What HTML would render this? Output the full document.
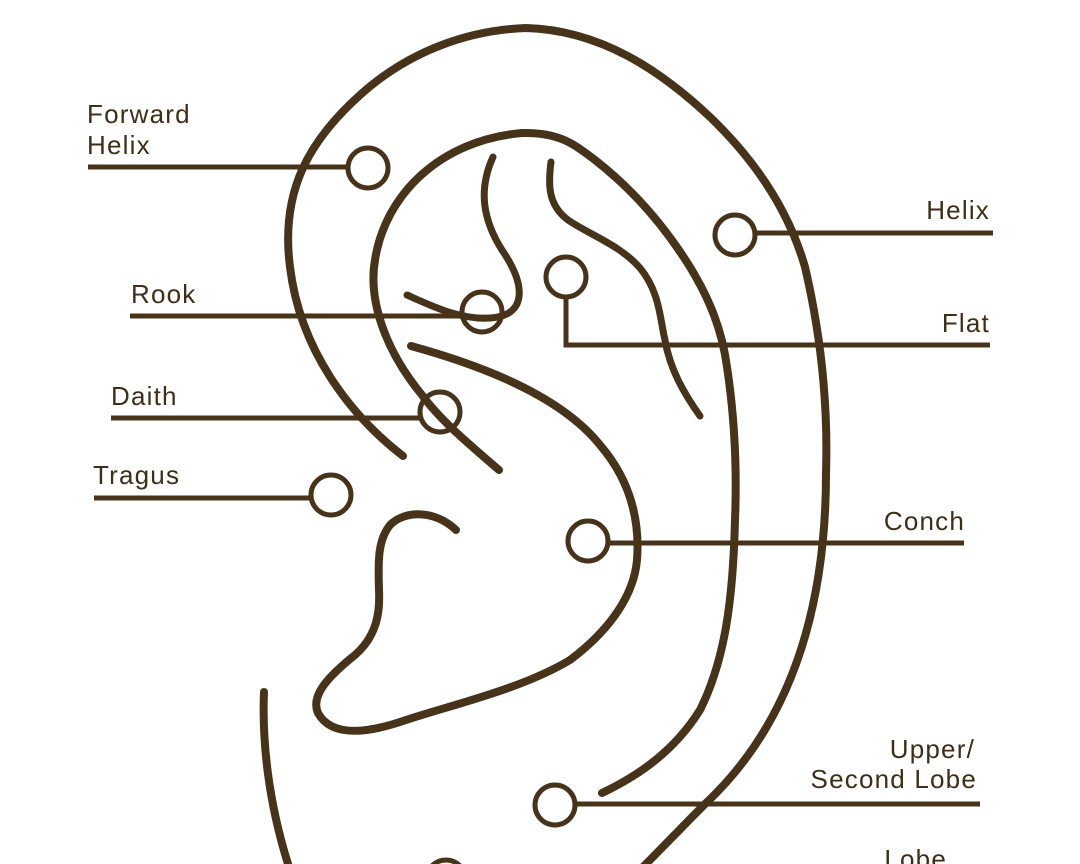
<!DOCTYPE html>
<html><head><meta charset="utf-8"><style>
html,body{margin:0;padding:0;background:#fff;}
svg{display:block}
text{font-family:"Liberation Sans",sans-serif;font-size:26px;fill:#3f2e15;letter-spacing:1.2px}
</style></head><body>
<svg width="1080" height="864" viewBox="0 0 1080 864" xmlns="http://www.w3.org/2000/svg">
<g fill="none" stroke="#46331a" stroke-linecap="round" stroke-linejoin="round">
<path stroke-width="8" d="M403,456 C350,415 300,350 290,267 C280,190 310,140 360,95 C410,50 470,30 526,28 C600,30 660,70 710,117 C760,165 790,215 805,267 C822,340 828,410 826,473 C826,600 795,720 705,804 C685,824 665,845 640,870"/>
<path stroke-width="8" d="M499,470 C470,445 440,420 422,395 C385,350 368,300 375,260 C385,195 440,140 522,133 C560,132 575,145 595,160 C640,195 670,235 690,267 C710,300 722,330 727,367 C735,420 737,470 735,520 C733,600 725,660 700,710 C675,750 640,775 602,793"/>
<path stroke-width="7" d="M493,157 C478,190 483,220 502,250 C528,288 525,316 490,318 C460,320 432,306 407,295"/>
<path stroke-width="7" d="M551,162 C548,185 548,205 568,220 C590,235 620,245 640,268 C660,292 660,320 665,340 C670,370 685,395 700,416"/>
<path stroke-width="8" d="M411,346 C480,365 560,395 600,445 C630,480 640,520 637,560 C634,595 610,630 570,660 C520,690 450,705 400,722 C360,735 330,735 318,713 C310,695 330,675 355,655 C378,635 380,610 379,590 C378,560 378,540 390,525 C405,510 435,510 456,530"/>
<path stroke-width="8" d="M264,692 C262,740 268,800 288,864"/>
</g>
<g stroke="#46331a" stroke-width="5" fill="none">
<line x1="88" y1="167" x2="348" y2="167"/>
<line x1="755" y1="233" x2="993" y2="233"/>
<line x1="130" y1="316" x2="470" y2="316"/>
<polyline points="566,297 566,345 990,345"/>
<line x1="111" y1="418" x2="420" y2="418"/>
<line x1="94" y1="498" x2="310" y2="498"/>
<line x1="608" y1="543" x2="964" y2="543"/>
<line x1="575" y1="804" x2="980" y2="804"/>
</g>
<g stroke="#46331a" stroke-width="5" fill="none">
<circle cx="368" cy="168" r="20"/>
<circle cx="735" cy="235" r="20"/>
<circle cx="566" cy="277" r="20"/>
<circle cx="482" cy="312" r="20"/>
<circle cx="440" cy="412" r="20"/>
<circle cx="331" cy="495" r="20"/>
<circle cx="588" cy="541" r="20"/>
<circle cx="555" cy="805" r="20"/>
<circle cx="446" cy="880" r="20"/>
</g>
<text x="87" y="123">Forward</text>
<text x="87" y="154">Helix</text>
<text x="990" y="219" text-anchor="end">Helix</text>
<text x="131" y="303">Rook</text>
<text x="990" y="332" text-anchor="end">Flat</text>
<text x="111" y="405">Daith</text>
<text x="93" y="484">Tragus</text>
<text x="965" y="530" text-anchor="end">Conch</text>
<text x="975" y="758" text-anchor="end">Upper/</text>
<text x="977" y="788" text-anchor="end">Second Lobe</text>
<text x="947" y="868" text-anchor="end">Lobe</text>
</svg>
</body></html>
